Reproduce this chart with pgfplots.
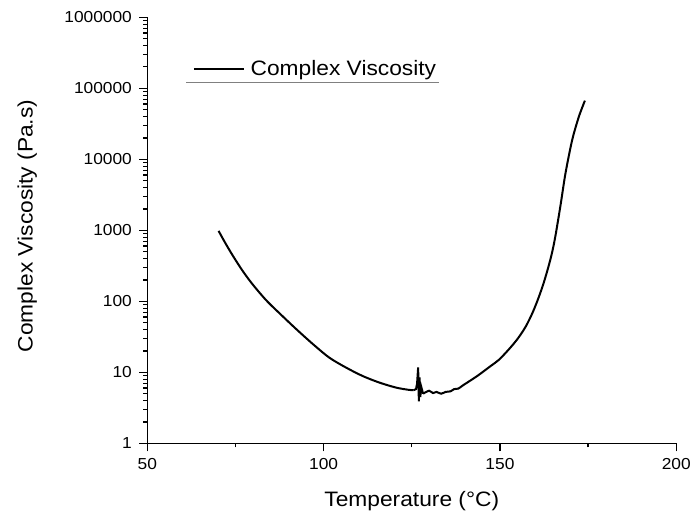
\documentclass[border=0pt]{standalone}
\usepackage{pgfplots}
\pgfplotsset{compat=1.18}
\usepackage{fontspec}
\setmainfont[FakeStretch=1.09]{Liberation Sans}
\begin{document}
\begin{tikzpicture}
\begin{axis}[
  width=530bp, height=427bp, scale only axis,
  xmin=50, xmax=200, ymin=1, ymax=1000000,
  ymode=log,
  axis lines=left, axis line style={-, line width=1.5bp},
  tick align=outside, tick style={black, line width=1.2bp},
  major tick length=8bp, minor tick length=4bp,
  xtick={50,100,150,200}, minor x tick num=1,
  ytick={1,10,100,1000,10000,100000,1000000},
  yticklabels={1,10,100,1000,10000,100000,1000000},
  /pgf/number format/assume math mode=true,
  ticklabel style={font=\fontsize{16}{19}\selectfont},
  xticklabel style={yshift=-4bp},
  yticklabel style={xshift=-4bp},
  label style={font=\fontsize{21}{24}\selectfont},
  xlabel={Temperature (°C)},
  ylabel={Complex Viscosity (Pa.s)},
  xlabel style={at={(axis description cs:0.5,-0.149)}, anchor=base},
  ylabel style={at={(axis description cs:-0.217,0.51)}, anchor=base},
  legend style={at={(rel axis cs:0.0855,0.879)}, anchor=west, draw=none, fill=none,
    inner sep=0pt, font=\fontsize{21}{24}\selectfont,
    /tikz/every odd column/.append style={column sep=4bp}},
  legend image code/.code={\draw[#1] (0bp,0bp) -- (50bp,0bp);},
  clip=false,
]
% decreasing branch
\addplot[black, line width=2bp, smooth, tension=0.5] coordinates {
(70.2,980) (72,676) (74.2,442) (77,269) (79.9,172) (83.7,103.5) (87.4,68.4)
(92.2,40.7) (96.9,25.1) (101.6,16.1) (106.3,11.7) (111,8.9) (115.7,7.2)
(120.5,6.1) (124.2,5.66) (125.5,5.6)
};
\addlegendentry{Complex Viscosity}
% spike near 127 C
\addplot[black, line width=2bp, forget plot] coordinates {
(125.5,5.6) (126.2,5.8) (126.5,7) (126.8,11.7) (127.0,3.9) (127.2,8.5)
(127.4,4.5) (127.7,6.2) (128.2,5)
};
% rising branch
\addplot[black, line width=2bp, smooth, tension=0.5, forget plot] coordinates {
(128.2,5) (129.9,5.5) (131,5.1) (132,5.3) (133.3,5.0) (134.6,5.3) (136,5.4)
(137,5.8) (138.2,5.9) (139.3,6.45) (141.5,7.6) (143.6,8.9) (147.4,12.3)
(149.7,15) (152.5,21) (155,29.6) (157.3,44) (159.3,70) (161.0,114)
(162.5,188) (163.9,326) (164.9,516) (165.8,867) (167.2,2280) (168.6,6400)
(170.5,18800) (172.4,40000) (174.1,67000)
};
\draw[gray, line width=1.2bp] (rel axis cs:0.0736,0.8478) -- (rel axis cs:0.5517,0.8478);
\end{axis}
\path (current axis.south west) ++(-147.7bp,-73.7bp) coordinate (bbsw);
\path (current axis.north east) ++(16.3bp,17.3bp) coordinate (bbne);
\path[use as bounding box] (bbsw) rectangle (bbne);
\end{tikzpicture}
\end{document}
